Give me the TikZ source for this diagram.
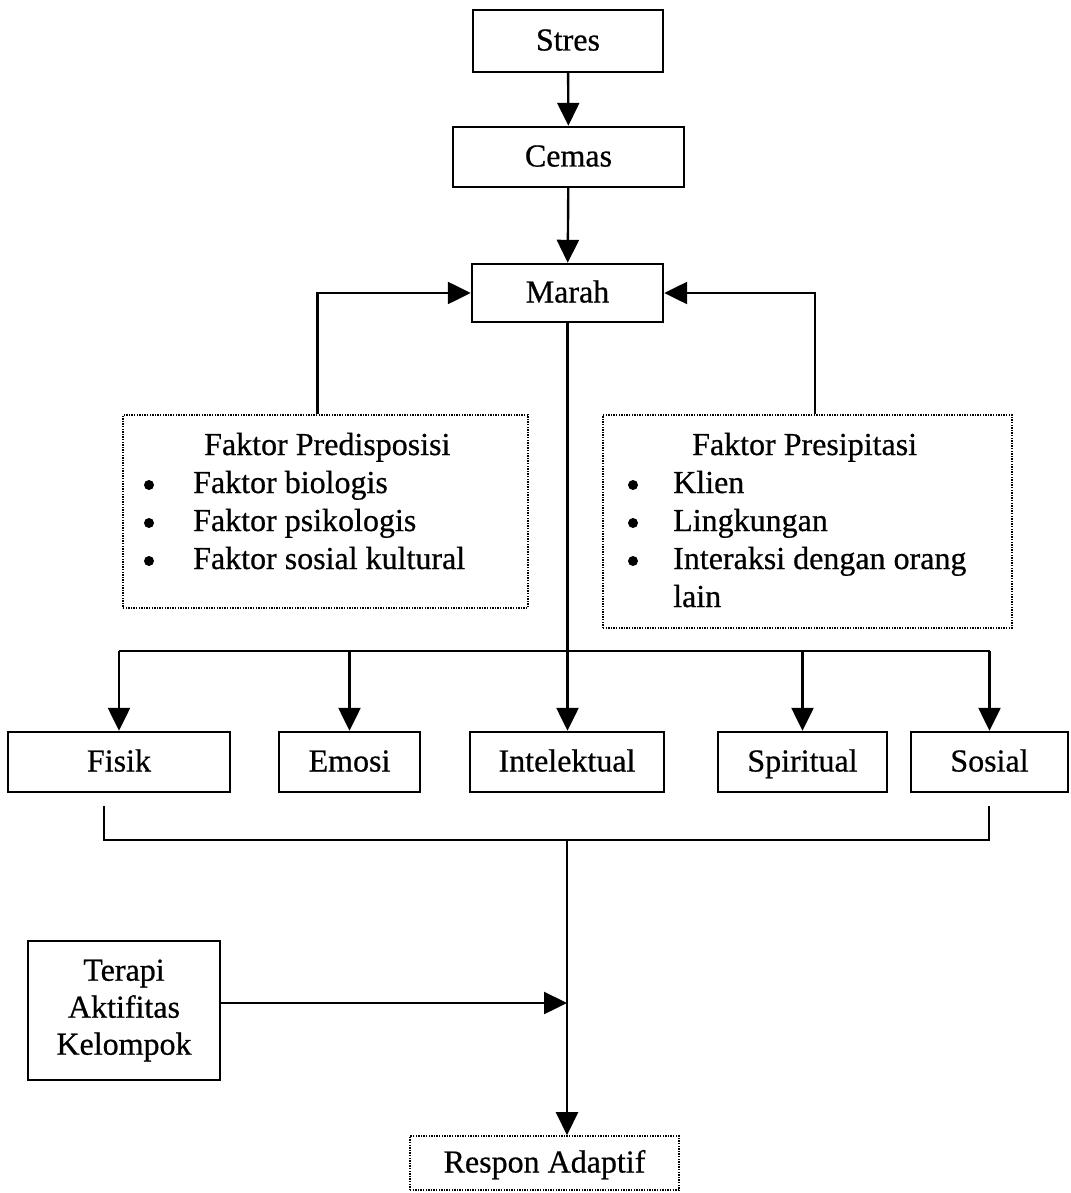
\documentclass[tikz,border=0pt]{standalone}
\usepackage{fontspec}
\setmainfont{Liberation Serif}[FakeBold=0.6]
\usetikzlibrary{arrows.meta,calc}
\begin{document}
\begin{tikzpicture}[x=1pt,y=-1pt,
  basebox/.style={draw, line width=2.4pt, inner sep=0pt, font=\fontsize{32}{37}\selectfont},
  box/.style={basebox, text height=24pt, text depth=5pt},
  dotbox/.style={draw, line width=1.6pt, dash pattern=on 1.4pt off 1.2pt, inner sep=0pt},
  txt/.style={inner sep=0pt, font=\fontsize{32}{37}\selectfont, anchor=base west},
  bul/.style={circle, fill, inner sep=0pt, minimum size=10pt},
  ln/.style={line width=2.4pt},
  arr/.style={ln, -{Triangle[length=23pt,width=22pt]}}]
\path[use as bounding box] (0,0) rectangle (1070,1193);

% top chain
\node[box, minimum width=190pt, minimum height=62pt] (stres) at (568,41) {Stres};
\node[box, minimum width=231pt, minimum height=60pt] (cemas) at (568.5,157) {Cemas};
\node[box, minimum width=191pt, minimum height=58pt] (marah) at (567.5,293) {Marah};

% factor boxes
\node[dotbox, minimum width=405pt, minimum height=193pt] (pred) at (325.5,511.5) {};
\node[dotbox, minimum width=409pt, minimum height=213pt] (pres) at (807.5,521.5) {};

\node[txt] (predh) at (204,455) {Faktor Predisposisi};
\node[bul] (pb1) at (149,485) {};
\node[bul] (pb2) at (149,523) {};
\node[bul] (pb3) at (149,561) {};
\node[txt] (pi1) at (193,493) {Faktor biologis};
\node[txt] (pi2) at (193,531) {Faktor psikologis};
\node[txt] (pi3) at (193,569) {Faktor sosial kultural};

\node[txt] (presh) at (692,455) {Faktor Presipitasi};
\node[bul] (rb1) at (633,485) {};
\node[bul] (rb2) at (633,523) {};
\node[bul] (rb3) at (633,561) {};
\node[txt] (ri1) at (673,493) {Klien};
\node[txt] (ri2) at (673,531) {Lingkungan};
\node[txt] (ri3) at (673,569) {Interaksi dengan orang};
\node[txt] (ri4) at (673,607) {lain};

% aspect boxes
\node[box, minimum width=222pt, minimum height=60pt] (fisik) at (119,762) {Fisik};
\node[box, minimum width=141pt, minimum height=60pt] (emosi) at (349.5,762) {Emosi};
\node[box, minimum width=194pt, minimum height=60pt] (intel) at (567,762) {Intelektual};
\node[box, minimum width=169pt, minimum height=60pt] (spir) at (802.5,762) {Spiritual};
\node[box, minimum width=157pt, minimum height=60pt] (sosial) at (989.5,762) {Sosial};

% bottom
\node[basebox, minimum width=192pt, minimum height=139pt, align=center] (terapi) at (124,1010.5) {Terapi\\Aktifitas\\Kelompok};
\node[dotbox, font=\fontsize{32}{37}\selectfont, text height=24pt, text depth=5pt, minimum width=269pt, minimum height=54pt] (respon) at (544.5,1163) {Respon Adaptif};

% coordinates
\coordinate (bus) at (567,651);
\coordinate (bl0) at (104,806);
\coordinate (br0) at (989,806);
\coordinate (bm) at (567,840);
\coordinate (tmid) at (567,1003);

% connectors
\draw[arr] (stres) -- (cemas);
\draw[arr] (cemas) -- (marah);
\draw[arr] ([xshift=-8pt]pred.north) |- (marah.west);
\draw[arr] ([xshift=7.5pt]pres.north) |- (marah.east);
\draw[arr] (marah.south) -- (marah.south |- intel.north);
\draw[ln] (fisik.north |- bus) -- (sosial.north |- bus);
\draw[arr] (fisik.north |- bus) -- (fisik.north);
\draw[arr] (emosi.north |- bus) -- (emosi.north);
\draw[arr] (spir.north |- bus) -- (spir.north);
\draw[arr] (sosial.north |- bus) -- (sosial.north);
\draw[ln] (bl0) -- (bl0 |- bm) -- (br0 |- bm) -- (br0);
\draw[arr] (bm) -- (bm |- respon.north);
\draw[arr] (terapi.east |- tmid) -- (tmid);
\end{tikzpicture}
\end{document}
